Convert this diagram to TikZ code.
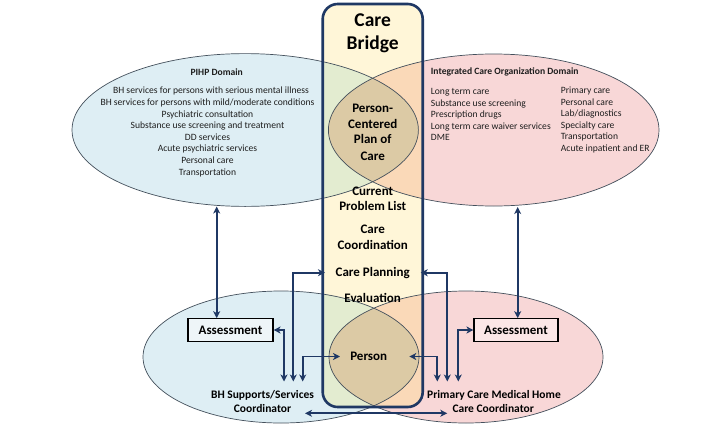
\documentclass[tikz,border=0pt]{standalone}
\usepackage{fontspec}
\setmainfont{Carlito}
\usetikzlibrary{arrows.meta}
\definecolor{navy}{HTML}{1F3864}
\definecolor{eblue}{HTML}{DEEEF4}
\definecolor{epink}{HTML}{F8D7D7}
\definecolor{byellow}{HTML}{FFF6D8}
\definecolor{bgreen}{HTML}{E3ECD0}
\definecolor{bpeach}{HTML}{FAD9B8}
\definecolor{lenstan}{HTML}{DCCAA5}
\definecolor{eline}{HTML}{44505C}
\definecolor{txt}{HTML}{1E1E1E}
\definecolor{boxblue}{HTML}{EEF5F8}
\definecolor{boxpink}{HTML}{FBE6E6}
\begin{document}
\begin{tikzpicture}[x=1pt,y=-1pt,
  conn/.style={navy, line width=1.8pt, {Stealth[length=7pt,width=7pt,inset=2pt]}-{Stealth[length=7pt,width=7pt,inset=2pt]}},
  small/.style={inner sep=0pt, text=txt, font=\fontsize{9.6}{11}\selectfont, text height=6.2pt, text depth=0pt},
  smallb/.style={small, font=\fontsize{9.6}{11}\selectfont\bfseries},
  mid/.style={inner sep=0pt, text=black, font=\fontsize{13}{15}\selectfont\bfseries, text height=8.4pt, text depth=0pt},
  big/.style={inner sep=0pt, text=black, font=\fontsize{19.5}{22}\selectfont\bfseries, text height=12.6pt, text depth=0pt},
  lab/.style={inner sep=0pt, text=black, font=\fontsize{11.5}{13}\selectfont\bfseries, text height=7.4pt, text depth=0pt},
  asmbox/.style={draw=black, line width=1.1pt, minimum width=85pt, minimum height=22.6pt, inner sep=0pt, font=\fontsize{13}{15}\selectfont\bfseries},
  eline/.style={draw=eline, line width=0.7pt}
]
\useasboundingbox (0,0) rectangle (728,423);
\fill[white] (0,0) rectangle (728,423);
\def\ULell{(245.2,130) ellipse [x radius=173.2pt, y radius=76.4pt]}
\def\URell{(493.7,130) ellipse [x radius=165.3pt, y radius=76pt]}
\def\LLell{(281,357) ellipse [x radius=138pt, y radius=66pt]}
\def\LRell{(466,357) ellipse [x radius=137pt, y radius=66pt]}
% ellipse fills
\fill[eblue] \ULell;
\fill[epink] \URell;
\fill[eblue] \LLell;
\fill[epink] \LRell;
% bridge fill and overlaps
\begin{scope}
  \clip[rounded corners=15pt] (322.7,4) rectangle (422.7,407);
  \fill[byellow] (322.7,4) rectangle (422.7,407);
  \fill[bgreen] \ULell;
  \fill[bpeach] \URell;
  \fill[bgreen] \LLell;
  \fill[bpeach] \LRell;
  \begin{scope}
    \clip \ULell;
    \fill[lenstan] \URell;
  \end{scope}
  \begin{scope}
    \clip \LLell;
    \fill[lenstan] \LRell;
  \end{scope}
\end{scope}
% outlines
\draw[eline] \ULell;
\draw[eline] \URell;
\draw[eline] \LLell;
\draw[eline] \LRell;
\draw[navy, line width=2.6pt, rounded corners=15pt] (322.7,4) rectangle (422.7,407);

% Bridge texts
\node[big] (cb1) at (372.7,20.5) {Care};
\node[big] (cb2) at (372.7,43) {Bridge};
\node[mid] (pc1) at (372.7,108.3) {Person-};
\node[mid] (pc2) at (372.7,124) {Centered};
\node[mid] (pc3) at (372.7,139.6) {Plan of};
\node[mid] (pc4) at (372.7,156) {Care};
\node[mid] (cur1) at (372.7,191.7) {Current};
\node[mid] (cur2) at (372.7,206.5) {Problem List};
\node[mid] (cc1) at (372.7,229.3) {Care};
\node[mid] (cc2) at (372.7,245.3) {Coordination};
\node[mid] (cp) at (372.7,272.7) {Care Planning};
\node[mid] (ev) at (372.7,298.3) {Evaluation};
\node[mid] (ps) at (368.7,356.7) {Person};

% PIHP domain texts
\node[smallb] (pihpT) at (216.7,72.3) {PIHP Domain};
\node[small] (pl1) at (211,90.7) {BH services for persons with serious mental illness};
\node[small] (pl2) at (207.5,102.3) {BH services for persons with mild/moderate conditions};
\node[small] (pl3) at (207.5,114) {Psychiatric consultation};
\node[small] (pl4) at (207.5,125.7) {Substance use screening and treatment};
\node[small] (pl5) at (207.5,136.9) {DD services};
\node[small] (pl6) at (207.5,148.7) {Acute psychiatric services};
\node[small] (pl7) at (207.5,160.2) {Personal care};
\node[small] (pl8) at (207.5,172.3) {Transportation};

% ICO domain texts
\node[smallb, anchor=west] (icoT) at (430.7,71.7) {Integrated Care Organization Domain};
\node[small, anchor=west] (il1) at (430.7,91.7) {Long term care};
\node[small, anchor=west] (il2) at (430.7,103) {Substance use screening};
\node[small, anchor=west] (il3) at (430.7,114.3) {Prescription drugs};
\node[small, anchor=west] (il4) at (430.7,126.5) {Long term care waiver services};
\node[small, anchor=west] (il5) at (430.7,137.7) {DME};
\node[small, anchor=west] (ir1) at (560.7,90.3) {Primary care};
\node[small, anchor=west] (ir2) at (560.7,102) {Personal care};
\node[small, anchor=west] (ir3) at (560.7,113.3) {Lab/diagnostics};
\node[small, anchor=west] (ir4) at (560.7,125.5) {Specialty care};
\node[small, anchor=west] (ir5) at (560.7,136.7) {Transportation};
\node[small, anchor=west] (ir6) at (560.7,148) {Acute inpatient and ER};

% Assessment boxes
\node[asmbox, fill=boxblue] (asmL) at (230.5,330) {Assessment};
\node[asmbox, fill=boxpink, minimum width=84pt] (asmR) at (516,330) {Assessment};

% Coordinator labels
\node[lab] (bh1) at (262.5,394.7) {BH Supports/Services};
\node[lab] (bh2) at (262.5,408.7) {Coordinator};
\node[lab] (pm1) at (494,394.7) {Primary Care Medical Home};
\node[lab] (pm2) at (493.2,408.7) {Care Coordinator};

% connector end points
\coordinate (pL) at (216.7,206.5);
\coordinate (pR) at (517.7,207);
\coordinate (bhA) at (284,381.5);
\coordinate (bhB) at (293.3,381.5);
\coordinate (bhC) at (302.7,381.5);
\coordinate (cpL) at (325,272.7);
\coordinate (cpR) at (420.7,272.7);
\coordinate (psL) at (340,356.5);
\coordinate (psR) at (409.3,356.5);
\coordinate (bL) at (305,413.3);
\coordinate (bR) at (447.3,413.3);
\coordinate (pcA) at (437.3,381.5);
\coordinate (pcB) at (447.3,381.5);
\coordinate (pcC) at (458.3,381.5);

% connectors
\draw[conn] (pL) -- (pL |- asmL.north);
\draw[conn] (pR) -- (pR |- asmR.north);
\draw[conn] (asmL.east) -| (bhA);
\draw[conn] (bhB) |- (cpL);
\draw[conn] (bhC) |- (psL);
\draw[conn] (bL) -- (bR);
\draw[conn] (psR) -| (pcA);
\draw[conn] (cpR) -| (pcB);
\draw[conn] (pcC) |- (asmR.west);
\end{tikzpicture}
\end{document}
